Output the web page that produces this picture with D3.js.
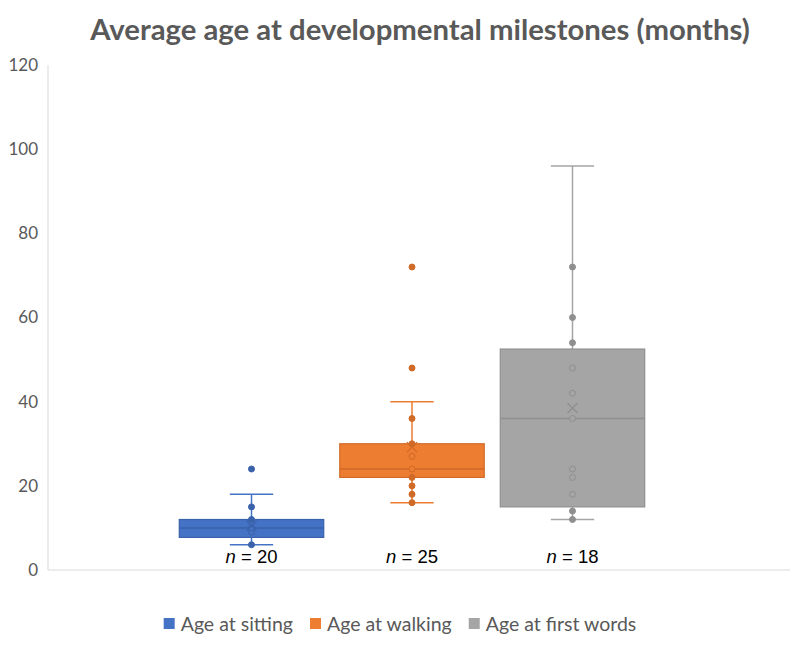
<!DOCTYPE html>
<html>
<head>
<meta charset="utf-8">
<script src="https://cdnjs.cloudflare.com/ajax/libs/d3/7.8.5/d3.min.js"></script>
<style>
  body { margin: 0; background: #fff; }
  text { font-family: Lato, 'Open Sans', sans-serif; }
</style>
</head>
<body>
<div id="chart"></div>
<script>
// Box plot of age at three developmental milestones

var series = [ 'Age at sitting', 'Age at walking', 'Age at first words' ];
var counts = [ 20, 25, 18 ];
var colors = [ '#4472C4', '#ED7D31', '#A5A5A5' ];
var edges = [ '#3A62AB', '#CF6A27', '#8F8F8F' ];

// Five-number summaries: [ low whisker, Q1, median, Q3, high whisker ]
var summaries = [
  [ 6, 7.75, 10, 12, 18 ],
  [ 16, 22, 24, 30, 40 ],
  [ 12, 15, 36, 52.5, 96 ]
];
var means = [ 10.5, 29.2, 38.5 ];

// Distinct data points shown on each box
var points = [
  [ 6, 9, 10, 12, 15, 24 ],
  [ 16, 18, 20, 22, 24, 27, 30, 36, 48, 72 ],
  [ 12, 14, 18, 22, 24, 36, 42, 48, 54, 60, 72 ]
];

var yTicks = [ 0, 20, 40, 60, 80, 100, 120 ];

var width = 800;
var height = 655;
var plot = { left: 48, right: 776, top: 65, bottom: 570 };

var svg = d3.select( '#chart' ).append( 'svg' )
  .attr( 'width', width )
  .attr( 'height', height );

var y = d3.scaleLinear()
  .domain( [ 0, 120 ] )
  .range( [ plot.bottom, plot.top ] );

var x = d3.scalePoint()
  .domain( series )
  .range( [ plot.left, plot.right ] )
  .padding( 1.268 );

var boxWidth = x.step() * 0.9;
var capWidth = boxWidth * 0.3;

// Title
svg.append( 'text' )
  .attr( 'x', 420 )
  .attr( 'y', 40 )
  .attr( 'text-anchor', 'middle' )
  .style( 'font-size', '29.3px' )
  .style( 'font-weight', 'bold' )
  .style( 'fill', '#595959' )
  .text( 'Average age at developmental milestones (months)' );

// Axes lines
svg.append( 'line' )
  .attr( 'x1', plot.left ).attr( 'x2', plot.left )
  .attr( 'y1', plot.top ).attr( 'y2', plot.bottom )
  .style( 'stroke', '#D9D9D9' );

svg.append( 'line' )
  .attr( 'x1', plot.left ).attr( 'x2', 790 )
  .attr( 'y1', plot.bottom ).attr( 'y2', plot.bottom )
  .style( 'stroke', '#D9D9D9' );

// Y tick labels
svg.append( 'g' )
  .selectAll( 'text' )
  .data( yTicks )
  .enter().append( 'text' )
  .attr( 'x', 38 )
  .attr( 'y', function( d ) { return y( d ); } )
  .attr( 'dy', '.35em' )
  .attr( 'text-anchor', 'end' )
  .style( 'font-size', '17px' )
  .style( 'fill', '#595959' )
  .text( function( d ) { return d; } );

// One group per series
var boxes = svg.selectAll( '.box' )
  .data( series )
  .enter().append( 'g' )
  .attr( 'class', 'box' )
  .attr( 'transform', function( d ) { return 'translate(' + x( d ) + ',0)'; } );

// Whisker line
boxes.append( 'line' )
  .attr( 'y1', function( d, i ) { return y( summaries[ i ][ 0 ] ); } )
  .attr( 'y2', function( d, i ) { return y( summaries[ i ][ 4 ] ); } )
  .style( 'stroke', function( d, i ) { return colors[ i ]; } )
  .style( 'stroke-width', 1.5 );

// Whisker caps
[ 0, 4 ].forEach( function( k ) {
  boxes.append( 'line' )
    .attr( 'x1', -capWidth / 2 )
    .attr( 'x2', capWidth / 2 )
    .attr( 'y1', function( d, i ) { return y( summaries[ i ][ k ] ); } )
    .attr( 'y2', function( d, i ) { return y( summaries[ i ][ k ] ); } )
    .style( 'stroke', function( d, i ) { return colors[ i ]; } )
    .style( 'stroke-width', 1.5 );
} );

// Box
boxes.append( 'rect' )
  .attr( 'x', -boxWidth / 2 )
  .attr( 'width', boxWidth )
  .attr( 'y', function( d, i ) { return y( summaries[ i ][ 3 ] ); } )
  .attr( 'height', function( d, i ) { return y( summaries[ i ][ 1 ] ) - y( summaries[ i ][ 3 ] ); } )
  .style( 'fill', function( d, i ) { return colors[ i ]; } )
  .style( 'stroke', function( d, i ) { return edges[ i ]; } )
  .style( 'stroke-width', 1.2 );

// Median
boxes.append( 'line' )
  .attr( 'x1', -boxWidth / 2 )
  .attr( 'x2', boxWidth / 2 )
  .attr( 'y1', function( d, i ) { return y( summaries[ i ][ 2 ] ); } )
  .attr( 'y2', function( d, i ) { return y( summaries[ i ][ 2 ] ); } )
  .style( 'stroke', function( d, i ) { return edges[ i ]; } )
  .style( 'stroke-width', 1.5 );

// Points: filled outside the box, hollow inside
boxes.each( function( d, i ) {
  var s = summaries[ i ];
  d3.select( this ).selectAll( 'circle' )
    .data( points[ i ] )
    .enter().append( 'circle' )
    .attr( 'cy', function( v ) { return y( v ); } )
    .attr( 'r', 3 )
    .style( 'fill', function( v ) {
      return ( v > s[ 1 ] && v < s[ 3 ] ) ? colors[ i ] : edges[ i ];
    } )
    .style( 'stroke', edges[ i ] )
    .style( 'stroke-width', 1 );
} );

// Mean marker (x)
boxes.append( 'path' )
  .attr( 'transform', function( d, i ) { return 'translate(0,' + y( means[ i ] ) + ')'; } )
  .attr( 'd', 'M-5,-5L5,5M-5,5L5,-5' )
  .style( 'stroke', function( d, i ) { return edges[ i ]; } )
  .style( 'stroke-width', 1.3 )
  .style( 'fill', 'none' );

// n labels
var nLabel = boxes.append( 'text' )
  .attr( 'y', 563 )
  .attr( 'text-anchor', 'middle' )
  .style( 'font-family', "'Liberation Sans', Arial, sans-serif" )
  .style( 'font-size', '18.5px' )
  .style( 'fill', '#000' );
nLabel.append( 'tspan' )
  .style( 'font-style', 'italic' )
  .text( 'n' );
nLabel.append( 'tspan' )
  .text( function( d, i ) { return ' = ' + counts[ i ]; } );

// Legend
var legend = svg.append( 'g' )
  .attr( 'transform', 'translate(400,624)' );

var items = legend.selectAll( 'g' )
  .data( series )
  .enter().append( 'g' );

items.append( 'rect' )
  .attr( 'width', 11 )
  .attr( 'height', 11 )
  .attr( 'y', -6 )
  .style( 'fill', function( d, i ) { return colors[ i ]; } );

items.append( 'text' )
  .attr( 'x', 17 )
  .attr( 'dy', '.35em' )
  .style( 'font-size', '19.5px' )
  .style( 'fill', '#595959' )
  .text( function( d ) { return d; } );

// Lay legend entries side by side, centred
var offset = 0;
var widths = [];
items.each( function() {
  widths.push( this.getBBox().width );
} );
var total = d3.sum( widths ) + 17 * ( widths.length - 1 );
items.attr( 'transform', function( d, i ) {
  var t = 'translate(' + ( offset - total / 2 ) + ',0)';
  offset += widths[ i ] + 17;
  return t;
} );
</script>
</body>
</html>
